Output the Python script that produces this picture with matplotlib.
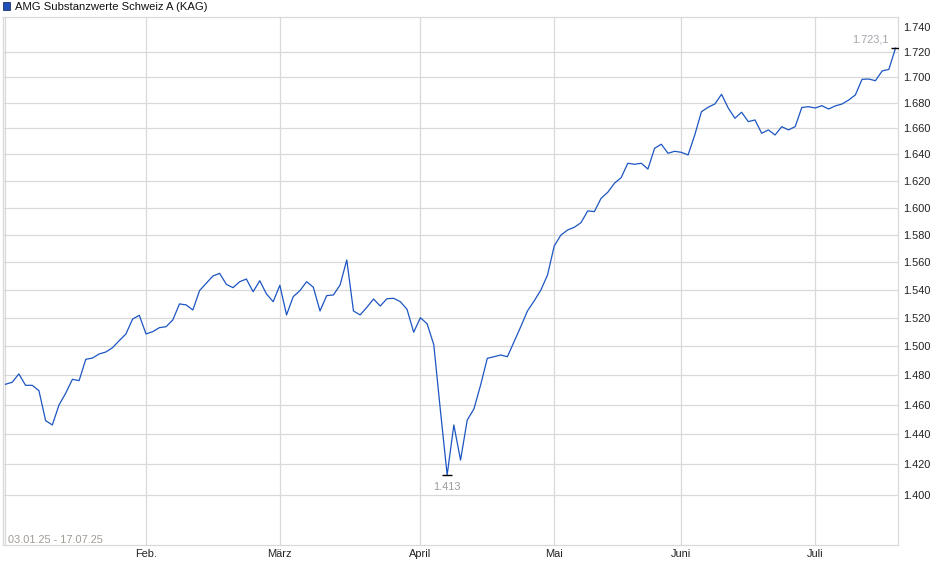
import matplotlib
matplotlib.use("Agg")
import matplotlib.pyplot as plt
from matplotlib.patches import Rectangle
from matplotlib.ticker import FixedLocator, FuncFormatter, NullLocator
import pandas as pd
import numpy as np

plt.rcParams['font.family'] = ['Liberation Sans', 'DejaVu Sans']

title = "AMG Substanzwerte Schweiz A (KAG)"
period_label = "03.01.25 - 17.07.25"
holidays = ['2025-04-18', '2025-04-21', '2025-05-01', '2025-05-29', '2025-05-30', '2025-06-09']
dates = pd.bdate_range('2025-01-03', '2025-07-17', freq='C', holidays=holidays)

values = [
    1473.8, 1475.2, 1480.9, 1473.1, 1473.1, 1469.4, 1449.1, 1446.2, 1459.7, 1467.7,
    1477.2, 1476.3, 1491.0, 1491.9, 1494.7, 1496.1, 1499.1, 1504.0, 1508.7, 1519.2,
    1521.8, 1508.7, 1510.3, 1513.1, 1513.8, 1518.5, 1529.9, 1529.2, 1525.6, 1539.4,
    1544.7, 1549.9, 1551.8, 1543.9, 1541.5, 1545.8, 1547.7, 1538.6, 1546.5, 1537.0,
    1531.5, 1543.2, 1522.1, 1535.1, 1539.4, 1545.8, 1541.8, 1524.9, 1535.8, 1536.3,
    1543.4, 1561.5, 1524.9, 1522.1, 1527.5, 1533.4, 1528.4, 1533.6, 1533.9, 1531.5,
    1526.1, 1509.9, 1520.1, 1515.9, 1501.2, 1455.6, 1413.0, 1446.2, 1422.8, 1449.5,
    1457.0, 1473.3, 1491.7, 1492.8, 1494.0, 1492.8, 1503.3, 1513.8, 1524.9, 1532.0,
    1539.8, 1550.6, 1571.7, 1579.7, 1583.4, 1585.4, 1588.8, 1597.5, 1597.0, 1606.9,
    1611.4, 1618.2, 1622.4, 1633.3, 1632.5, 1633.3, 1628.9, 1644.7, 1647.8, 1640.9,
    1642.4, 1641.6, 1639.6, 1654.9, 1672.9, 1676.4, 1678.9, 1686.5, 1675.8, 1667.8,
    1672.5, 1665.2, 1666.5, 1656.2, 1658.8, 1654.9, 1661.3, 1658.8, 1661.3, 1676.2,
    1676.8, 1675.8, 1677.6, 1675.0, 1677.4, 1678.9, 1682.0, 1686.0, 1698.3, 1698.5,
    1697.2, 1704.9, 1706.1, 1723.1,
]
month_names = ['Feb.', 'März', 'April', 'Mai', 'Juni', 'Juli']
y_ticks = [1400, 1420, 1440, 1460, 1480, 1500, 1520, 1540, 1560, 1580, 1600,
           1620, 1640, 1660, 1680, 1700, 1720, 1740]

n = min(len(dates), len(values))
dates = dates[:n]
vals = np.array(values[:n])
idx = np.arange(n)

months = dates.month
month_starts = [i for i in range(1, n) if months[i] != months[i - 1]]

W, H = 940, 579
fig = plt.figure(figsize=(W / 100, H / 100), dpi=100)
ax = fig.add_axes([3 / W, 34 / H, 895 / W, 528 / H])

line_color = '#1c55c2'
grid_color = '#d9d9d9'
fs = 7.9

ax.plot(idx, vals, color=line_color, lw=0.9, zorder=3)
ax.set_yscale('log')
ax.set_xlim(-0.37, n - 1 + 0.37)
ax.set_ylim(1367.7, 1748.2)

ax.yaxis.set_major_locator(FixedLocator(y_ticks))
ax.yaxis.set_minor_locator(NullLocator())
ax.yaxis.set_major_formatter(FuncFormatter(lambda v, p: f"{v:,.0f}".replace(',', '.')))
ax.yaxis.tick_right()
ax.tick_params(axis='y', length=0, pad=3.4, labelsize=fs, colors='#222222')

ax.set_xticks([0] + month_starts)
ax.set_xticklabels([''] + month_names[:len(month_starts)])
ax.xaxis.set_minor_locator(NullLocator())
ax.tick_params(axis='x', length=0, pad=3, labelsize=fs, colors='#222222')

ax.grid(True, which='major', color=grid_color, lw=0.9, zorder=0)
for gl, t in zip(ax.get_ygridlines(), y_ticks):
    if t >= 1740:
        gl.set_visible(False)

for s in ax.spines.values():
    s.set_color(grid_color)
    s.set_linewidth(0.9)

# extreme markers
imin = int(np.argmin(vals))
imax = n - 1
ax.plot([imin], [vals[imin]], marker='_', color='black', ms=6.5, mew=1.0, zorder=4)
ax.plot([imax], [vals[imax]], marker='_', color='black', ms=6.5, mew=1.0, zorder=4)

def de_fmt(v, d):
    s = f"{v:,.{d}f}"
    return s.replace(',', 'X').replace('.', ',').replace('X', '.')

ax.annotate(de_fmt(vals[imin], 0), (imin, vals[imin]), xytext=(0, -12),
            textcoords='offset pixels', ha='center', va='center',
            fontsize=fs, color='#9c9c9c')
ax.annotate(de_fmt(vals[imax], 1), (imax, vals[imax]), xytext=(-7, 9),
            textcoords='offset pixels', ha='right', va='center',
            fontsize=fs, color='#a0a4ac')

fig.text(8 / W, 1 - 540 / H, period_label, ha='left', va='center',
         fontsize=fs, color='#a09a94')

# title with square
fig.patches.append(Rectangle((2.5 / W, 1 - 9.5 / H), 7 / W, 7 / H,
                             transform=fig.transFigure, facecolor='#1f4fb8',
                             edgecolor='#22306a', lw=0.6))
fig.text(15 / W, 1 - 6.5 / H, title, ha='left', va='center', fontsize=8.1, color='#111111')

fig.savefig('out.png', dpi=100)
